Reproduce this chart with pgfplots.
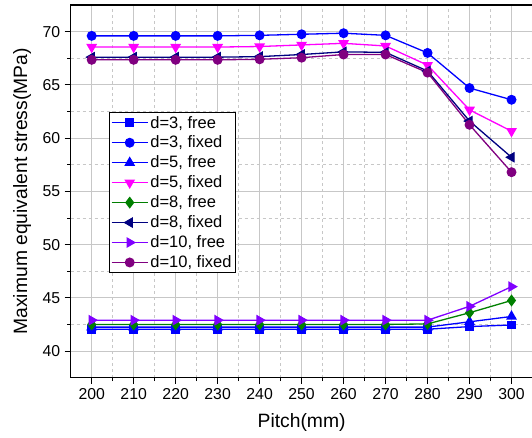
\documentclass[border=0pt]{standalone}
\usepackage{pgfplots}
\pgfplotsset{compat=1.18}
\usepackage{fontspec}
\setmainfont{Liberation Sans}
\definecolor{cblue}{RGB}{0,0,255}
\definecolor{cmag}{RGB}{255,0,255}
\definecolor{cgreen}{RGB}{0,128,0}
\definecolor{cnavy}{RGB}{0,0,128}
\definecolor{cviolet}{RGB}{128,0,255}
\definecolor{cpurple}{RGB}{128,0,128}
\pgfplotstableread{
x d3free d3fixed d5free d5fixed d8free d8fixed d10free d10fixed
200 42.05 69.6  42.25 68.55 42.5  67.6  42.9  67.35
210 42.05 69.6  42.25 68.55 42.5  67.6  42.9  67.35
220 42.05 69.6  42.25 68.55 42.5  67.6  42.9  67.35
230 42.05 69.6  42.25 68.55 42.5  67.6  42.9  67.35
240 42.05 69.65 42.25 68.6  42.5  67.65 42.9  67.4
250 42.05 69.75 42.25 68.75 42.5  67.85 42.9  67.55
260 42.05 69.85 42.25 68.9  42.5  68.1  42.9  67.85
270 42.05 69.65 42.25 68.65 42.5  68.05 42.9  67.85
280 42.05 68.0  42.25 66.85 42.55 66.3  42.9  66.15
290 42.3  64.7  42.75 62.65 43.6  61.6  44.2  61.25
300 42.45 63.6  43.25 60.65 44.75 58.2  46.05 56.8
}\data
\begin{document}
\begin{tikzpicture}
\useasboundingbox (0pt,0pt) rectangle (532pt,438pt);
\begin{axis}[
  at={(70.7pt,60.3pt)}, anchor=south west,
  scale only axis, width=461.8pt, height=372.7pt,
  xmin=195, xmax=305, ymin=37.5, ymax=72.5,
  xtick={200,210,...,300}, ytick={40,45,...,70},
  minor x tick num=1, minor y tick num=1,
  tick align=outside, xtick pos=bottom, ytick pos=left,
  major tick length=6pt, minor tick length=3.5pt,
  every tick/.style={black, line width=0.9pt},
  axis line style={black, line width=1.2pt},
  grid=both,
  major grid style={color=black!22, line width=0.9pt},
  minor grid style={color=black!22, dashed, line width=0.7pt},
  /pgf/number format/assume math mode=true,
  ticklabel style={font=\fontsize{15.8}{18}\selectfont},
  xticklabel style={yshift=-1pt},
  yticklabel style={xshift=-1pt},
  xlabel={Pitch(mm)}, ylabel={Maximum equivalent stress(MPa)},
  label style={font=\fontsize{19.3}{22}\selectfont},
  xlabel style={at={(rel axis cs:0.5,0)}, anchor=north, yshift=-32pt},
  ylabel style={at={(rel axis cs:0,0.5)}, anchor=south, yshift=36pt},
  every axis plot/.append style={line width=1.3pt},
  legend style={at={(0.082,0.713)}, anchor=north west, draw=black, line width=1pt,
    font=\fontsize{16.5}{19}\selectfont, row sep=2.3pt, inner xsep=2pt, inner ysep=1.5pt,
    cells={anchor=west}, nodes={inner ysep=2.1pt}},
  legend image code/.code={\draw[mark repeat=2,mark phase=2] plot coordinates {(0pt,0pt) (18pt,0pt) (36pt,0pt)};},
]
\addplot[color=cblue, mark=square*, mark size=3.8pt] table[x=x,y=d3free]{\data};
\addlegendentry{d=3, free}
\addplot[color=cblue, mark=*, mark size=4.3pt] table[x=x,y=d3fixed]{\data};
\addlegendentry{d=3, fixed}
\addplot[color=cblue, mark=triangle*, mark size=5pt] table[x=x,y=d5free]{\data};
\addlegendentry{d=5, free}
\addplot[color=cmag, mark=triangle*, mark size=5pt, mark options={rotate=180}] table[x=x,y=d5fixed]{\data};
\addlegendentry{d=5, fixed}
\addplot[color=cgreen, mark=diamond*, mark size=5pt] table[x=x,y=d8free]{\data};
\addlegendentry{d=8, free}
\addplot[color=cnavy, mark=triangle*, mark size=5pt, mark options={rotate=90}] table[x=x,y=d8fixed]{\data};
\addlegendentry{d=8, fixed}
\addplot[color=cviolet, mark=triangle*, mark size=5pt, mark options={rotate=-90}] table[x=x,y=d10free]{\data};
\addlegendentry{d=10, free}
\addplot[color=cpurple, mark=*, mark size=4.3pt] table[x=x,y=d10fixed]{\data};
\addlegendentry{d=10, fixed}
\end{axis}
\end{tikzpicture}
\end{document}
